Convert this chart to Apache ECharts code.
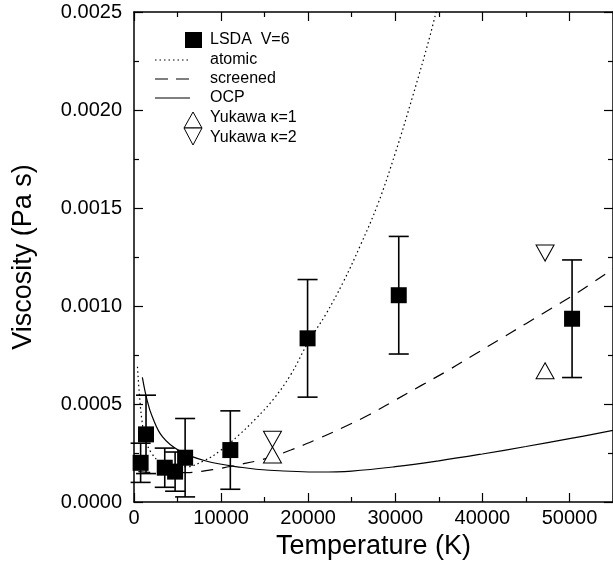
<!DOCTYPE html>
<html>
<head>
<meta charset="utf-8">
<script src="https://cdn.jsdelivr.net/npm/echarts@6/dist/echarts.min.js"></script>
<style>
html,body{margin:0;padding:0;background:#fff;}
#c{width:613px;height:568px;}
</style>
</head>
<body>
<div id="c"></div>
<script>
// ---- data ----
const lsdaT   = [760, 1380, 3530, 4720, 5870, 11060, 19930, 30400, 50300];
const lsdaV   = [0.00020, 0.000345, 0.000175, 0.000155, 0.000226, 0.000265, 0.000835, 0.001055, 0.000935];
const lsdaErr = [0.0001, 0.0002, 0.0001, 0.0001, 0.0002, 0.0002, 0.0003, 0.0003, 0.0003];

const yuk1T = [15900, 47200];
const yuk1V = [0.00024, 0.00067];
const yuk2T = [15900, 47200];
const yuk2V = [0.00032, 0.00127];

const atomicT = [400, 600, 900, 1300, 2000, 3000, 4500, 6000, 8000, 10000, 12000, 14000, 16000, 18000, 20000, 22000, 24000, 26000, 28000, 30000, 32000, 34000, 35000];
const atomicV = [0.00069, 0.00056, 0.00042, 0.00032, 0.00025, 0.000205, 0.000182, 0.00018, 0.00021, 0.000265, 0.00034, 0.000426, 0.000524, 0.00065, 0.000815, 0.000956, 0.00112, 0.00131, 0.00152, 0.00178, 0.00207, 0.00238, 0.00256];

const screenedT = [500, 3000, 6000, 9000, 12000, 15000, 18000, 21000, 24000, 27000, 30000, 33000, 36000, 39000, 42000, 45000, 48000, 51000, 55000];
const screenedV = [0.000155, 0.00015, 0.00015, 0.000165, 0.00019, 0.00022, 0.000265, 0.00032, 0.00038, 0.000445, 0.00052, 0.000595, 0.00067, 0.00075, 0.00083, 0.00091, 0.00099, 0.00107, 0.00119];

const ocpT = [960, 1500, 2100, 3260, 5180, 8260, 12480, 15550, 21300, 25000, 30000, 35000, 40000, 45000, 50000, 55000];
const ocpV = [0.000636, 0.00052, 0.000435, 0.000333, 0.000262, 0.000209, 0.000176, 0.000162, 0.000153, 0.000158, 0.00018, 0.00021, 0.000245, 0.000283, 0.000323, 0.000365];

const xTicks = [0, 10000, 20000, 30000, 40000, 50000];
const yTicks = ['0.0000', '0.0005', '0.0010', '0.0015', '0.0020', '0.0025'];

const legendLabels = ['LSDA  V=6', 'atomic', 'screened', 'OCP', 'Yukawa \u03ba=1', 'Yukawa \u03ba=2'];

// ---- chart ----
const FONT = '"Liberation Sans", Arial, Helvetica, sans-serif';
const chart = echarts.init(document.getElementById('c'), null, {renderer: 'canvas'});

const zip = (a, b) => a.map((v, i) => [v, b[i]]);
const errData = lsdaT.map((t, i) => [t, lsdaV[i] - lsdaErr[i], lsdaV[i] + lsdaErr[i]]);

const axisLineStyle = {color: '#000', width: 1.5};
const tickStyle = {color: '#000', width: 1.2};

const legendY = [40, 60, 79, 98, 118, 138];
const legendTextX = 210;
const legendGraphics = [
  {type: 'rect', shape: {x: 185, y: 32, width: 17, height: 16}, style: {fill: '#000'}},
  {type: 'line', shape: {x1: 155, y1: legendY[1], x2: 190, y2: legendY[1]}, style: {stroke: '#000', lineWidth: 1.2, lineDash: [1.5, 3]}},
  {type: 'line', shape: {x1: 155, y1: legendY[2], x2: 190, y2: legendY[2]}, style: {stroke: '#000', lineWidth: 1.2, lineDash: [13, 8]}},
  {type: 'line', shape: {x1: 155, y1: legendY[3], x2: 190, y2: legendY[3]}, style: {stroke: '#000', lineWidth: 1.2}},
  {type: 'polygon', shape: {points: [[184, 128], [202, 128], [193, 112]]}, style: {fill: '#fff', stroke: '#000', lineWidth: 1}},
  {type: 'polygon', shape: {points: [[184, 128], [202, 128], [193, 145]]}, style: {fill: '#fff', stroke: '#000', lineWidth: 1}}
].concat(legendLabels.map((t, i) => ({
  type: 'text', x: legendTextX, y: legendY[i],
  style: {text: t, fill: '#000', font: '16px ' + FONT, textVerticalAlign: 'middle', textAlign: 'left'}
})));

function xAxisDef(pos, withLabels) {
  return {
    type: 'value', min: 0, max: 55000, interval: 10000, position: pos,
    name: withLabels ? 'Temperature (K)' : '', nameLocation: 'middle', nameGap: 25,
    nameTextStyle: {fontSize: 27, color: '#000', fontFamily: FONT},
    axisLine: {show: true, onZero: false, lineStyle: axisLineStyle},
    axisTick: {show: true, inside: true, length: 9, lineStyle: tickStyle},
    minorTick: {show: true, splitNumber: 2, length: 5, lineStyle: tickStyle},
    axisLabel: {show: withLabels, fontSize: 20, color: '#000', margin: 6, fontFamily: FONT, showMaxLabel: false,
      formatter: v => (xTicks.indexOf(v) >= 0 ? String(v) : '')},
    splitLine: {show: false}
  };
}
function yAxisDef(pos, withLabels) {
  return {
    type: 'value', min: 0, max: 0.0025, interval: 0.0005, position: pos,
    name: withLabels ? 'Viscosity (Pa s)' : '', nameLocation: 'middle', nameGap: 97,
    nameTextStyle: {fontSize: 27, color: '#000', fontFamily: FONT},
    axisLine: {show: true, onZero: false, lineStyle: axisLineStyle},
    axisTick: {show: true, inside: true, length: 9, lineStyle: tickStyle},
    minorTick: {show: true, splitNumber: 2, length: 5, lineStyle: tickStyle},
    axisLabel: {show: withLabels, fontSize: 20, color: '#000', margin: 12, fontFamily: FONT,
      formatter: v => yTicks[Math.round(v / 0.0005)] || ''},
    splitLine: {show: false}
  };
}

const option = {
  backgroundColor: '#fff',
  animation: false,
  textStyle: {fontFamily: FONT},
  grid: {left: 134, right: 0, top: 12, bottom: 66, containLabel: false},
  xAxis: [xAxisDef('bottom', true), xAxisDef('top', false)],
  yAxis: [yAxisDef('left', true), yAxisDef('right', false)],
  graphic: legendGraphics,
  series: [
    {
      name: 'atomic', type: 'line', data: zip(atomicT, atomicV), showSymbol: false, symbol: 'none',
      smooth: 0.4, clip: true,
      lineStyle: {color: '#000', width: 1.2, type: [1.5, 3]}, z: 2
    },
    {
      name: 'screened', type: 'line', data: zip(screenedT, screenedV), showSymbol: false, symbol: 'none',
      smooth: 0.4, clip: true,
      lineStyle: {color: '#000', width: 1.2, type: [12, 9]}, z: 2
    },
    {
      name: 'OCP', type: 'line', data: zip(ocpT, ocpV), showSymbol: false, symbol: 'none',
      smooth: 0.4, clip: true,
      lineStyle: {color: '#000', width: 1.2}, z: 2
    },
    {
      name: 'errors', type: 'custom', data: errData, z: 3,
      renderItem: function (params, api) {
        const x = api.value(0), lo = api.value(1), hi = api.value(2);
        const pLo = api.coord([x, lo]);
        const pHi = api.coord([x, hi]);
        const hw = 10;
        const st = {stroke: '#000', lineWidth: 1.6};
        return {type: 'group', children: [
          {type: 'line', shape: {x1: pHi[0], y1: pHi[1], x2: pLo[0], y2: pLo[1]}, style: st},
          {type: 'line', shape: {x1: pHi[0] - hw, y1: pHi[1], x2: pHi[0] + hw, y2: pHi[1]}, style: st},
          {type: 'line', shape: {x1: pLo[0] - hw, y1: pLo[1], x2: pLo[0] + hw, y2: pLo[1]}, style: st}
        ]};
      }
    },
    {
      name: 'LSDA  V=6', type: 'scatter', data: zip(lsdaT, lsdaV), symbol: 'rect', symbolSize: 16,
      itemStyle: {color: '#000', opacity: 1}, z: 4
    },
    {
      name: 'Yukawa \u03ba=1', type: 'scatter', data: zip(yuk1T, yuk1V), symbol: 'triangle', symbolSize: [18, 16],
      itemStyle: {color: '#fff', borderColor: '#000', borderWidth: 1, opacity: 1}, z: 4
    },
    {
      name: 'Yukawa \u03ba=2', type: 'scatter', data: zip(yuk2T, yuk2V), symbol: 'triangle', symbolSize: [18, 16],
      symbolRotate: 180,
      itemStyle: {color: '#fff', borderColor: '#000', borderWidth: 1, opacity: 1}, z: 4
    }
  ]
};
chart.setOption(option);
</script>
</body>
</html>
